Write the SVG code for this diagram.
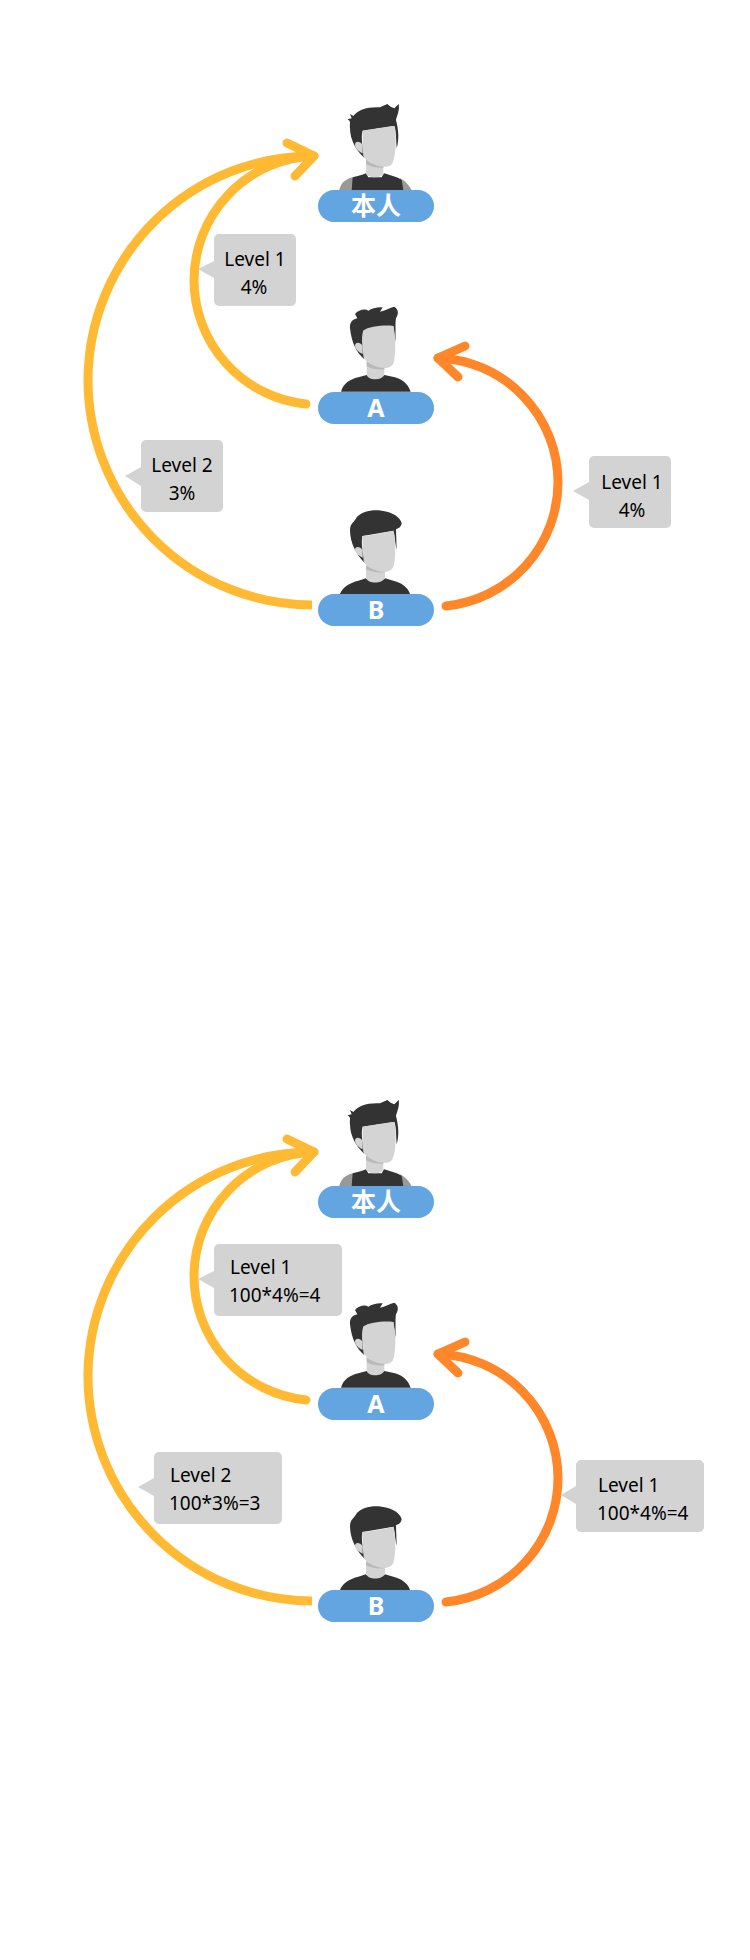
<svg xmlns="http://www.w3.org/2000/svg" width="750" height="1960" viewBox="0 0 750 1960">
<style>
text{font-family:"Noto Sans","Noto Sans CJK SC",sans-serif}
.bub{fill:#d3d3d3}
.t{font-size:19px;fill:#000}
.m{text-anchor:middle}
.pill{fill:#62a5e0}
.pt{font-size:25px;font-weight:700;fill:#fff;text-anchor:middle}
.cjk{font-family:"Noto Sans CJK SC",sans-serif}
.hair{fill:#333}
.skin{fill:#d4d4d4}
.shade{fill:#b9b9b9}
.arm{fill:#999}
.c{fill:none;stroke-width:9;stroke-linecap:round;stroke-linejoin:round}
.y{stroke:#ffb933}
.o{stroke:#ff8629}
.bt{stroke-linecap:butt}
</style>
<defs>
<g id="p0" transform="scale(.33333)">
<path class="arm" d="M118 300C122 280 135 268 158 262L175 300Z"/>
<path class="arm" d="M300 265C318 275 328 287 334 300H300Z"/>
<path class="hair" d="M155 300L158 262C175 258 190 254 198 250L205 262H245L252 250C275 257 295 262 305 270L310 300Z"/>
<path class="skin" d="M198 205V250C205 266 245 266 250 250V220Z"/>
<path class="shade" d="M198 208V222C215 232 235 234 250 233V222Z"/>
<path class="hair" d="M142 88L155 85L150 72L160 78C175 60 200 50 240 52L262 42L272 50L283 55L296 42C300 60 290 80 288 90C296 120 298 150 290 175C288 140 288 120 283 108L188 122C183 135 186 165 193 203C170 185 150 150 150 115C148 100 155 95 142 88Z"/>
<path class="skin" d="M188 122C215 118 260 110 283 108C290 140 288 195 278 218C272 232 250 232 235 228C215 222 198 212 190 198L188 150Z"/>
<path class="skin" d="M188 190C176 184 166 176 165 164C165 152 180 152 188 165Z"/>
</g>
<g id="pa" transform="scale(.33333)">
<path class="hair" d="M123 305C130 280 150 268 175 262L200 255H253L285 262C310 268 325 285 332 305Z"/>
<path class="skin" d="M200 212V255C205 272 245 272 253 255V225Z"/>
<path class="shade" d="M200 216V228C215 238 235 240 253 238V228Z"/>
<path class="hair" d="M165 72C175 60 195 55 205 62C215 55 235 50 248 52L240 65C255 62 270 52 283 50C295 58 297 70 288 85C285 100 288 130 286 155L280 108L190 122C185 135 186 165 193 208C170 188 155 160 150 115C148 95 160 88 172 85Z"/>
<path class="skin" d="M190 122C205 108 260 104 280 108C288 140 288 195 280 220C274 236 252 236 237 232C215 226 198 216 191 202L188 150Z"/>
<path class="skin" d="M188 192C176 186 166 178 165 167C165 155 180 155 188 168Z"/>
</g>
<g id="pb" transform="scale(.33333)">
<path class="hair" d="M120 312C128 290 150 278 175 272L198 265H255L290 275C310 282 325 295 330 312Z"/>
<path class="skin" d="M198 225V265C205 282 245 282 255 265V238Z"/>
<path class="shade" d="M198 228V238C215 246 235 250 255 246V238Z"/>
<path class="hair" d="M150 120C150 100 165 95 170 82C185 65 215 58 245 62C280 65 303 85 305 100C303 112 295 115 288 118L290 180C284 150 284 130 280 122L188 138C183 150 186 180 195 220C170 195 150 160 150 120Z"/>
<path class="skin" d="M186 138C215 135 250 130 280 122C288 150 288 205 280 230C274 246 252 248 237 244C215 238 198 228 191 214L188 165Z"/>
<path class="skin" d="M188 203C176 196 166 190 165 179C165 168 180 168 188 181Z"/>
</g>
</defs>
<rect width="750" height="1960" fill="#fff"/>

<g id="connectors">
<path class="c y bt" d="M312 605A225 225 0 0 1 88 378A225 225 0 0 1 314 156"/>
<path class="c y" d="M306 404A124.6 124.6 0 0 1 194 280A124.6 124.6 0 0 1 314 156"/>
<path class="c y" d="M287 143L314 156L295 176"/>
<path class="c o" d="M446 606A124.6 124.6 0 0 0 558 482A124.6 124.6 0 0 0 438 358"/>
<path class="c o" d="M465 346L438 358L458 377"/>
<path class="c y bt" d="M312 1601A225 225 0 0 1 88 1374A225 225 0 0 1 314 1152"/>
<path class="c y" d="M306 1400A124.6 124.6 0 0 1 194 1276A124.6 124.6 0 0 1 314 1152"/>
<path class="c y" d="M287 1139L314 1152L295 1172"/>
<path class="c o" d="M446 1602A124.6 124.6 0 0 0 558 1478A124.6 124.6 0 0 0 438 1354"/>
<path class="c o" d="M465 1342L438 1354L458 1373"/>
</g>

<g id="node-self-1"><use href="#p0" transform="translate(300 90)"/><rect class="pill" x="318" y="190" width="116" height="32" rx="16"/><text class="pt cjk" x="376" y="215">本人</text></g>
<g id="node-a-1"><use href="#pa" transform="translate(300 290)"/><rect class="pill" x="318" y="392" width="116" height="32" rx="16"/><text class="pt" x="376" y="417">A</text></g>
<g id="node-b-1"><use href="#pb" transform="translate(300 490)"/><rect class="pill" x="318" y="594" width="116" height="32" rx="16"/><text class="pt" x="376" y="619">B</text></g>

<g id="label-a-self-1"><path class="bub" d="M219 234H291a5 5 0 0 1 5 5V301a5 5 0 0 1-5 5H219a5 5 0 0 1-5-5V278L198 269L214 261V239a5 5 0 0 1 5-5Z"/><text class="t m" x="255" y="266">Level 1</text><text class="t m" x="254" y="294">4%</text></g>
<g id="label-b-self-1"><path class="bub" d="M146 440H218a5 5 0 0 1 5 5V507a5 5 0 0 1-5 5H146a5 5 0 0 1-5-5V486L125 476L141 467V445a5 5 0 0 1 5-5Z"/><text class="t m" x="182" y="472">Level 2</text><text class="t m" x="182" y="500">3%</text></g>
<g id="label-b-a-1"><path class="bub" d="M594 456H666a5 5 0 0 1 5 5V523a5 5 0 0 1-5 5H594a5 5 0 0 1-5-5V500L573 491L589 482V461a5 5 0 0 1 5-5Z"/><text class="t m" x="632" y="489">Level 1</text><text class="t m" x="632" y="517">4%</text></g>

<g id="node-self-2"><use href="#p0" transform="translate(300 1086)"/><rect class="pill" x="318" y="1186" width="116" height="32" rx="16"/><text class="pt cjk" x="376" y="1211">本人</text></g>
<g id="node-a-2"><use href="#pa" transform="translate(300 1286)"/><rect class="pill" x="318" y="1388" width="116" height="32" rx="16"/><text class="pt" x="376" y="1413">A</text></g>
<g id="node-b-2"><use href="#pb" transform="translate(300 1486)"/><rect class="pill" x="318" y="1590" width="116" height="32" rx="16"/><text class="pt" x="376" y="1615">B</text></g>

<g id="label-a-self-2"><path class="bub" d="M219 1244H337a5 5 0 0 1 5 5V1311a5 5 0 0 1-5 5H219a5 5 0 0 1-5-5V1288L198 1279L214 1271V1249a5 5 0 0 1 5-5Z"/><text class="t" x="230" y="1274">Level 1</text><text class="t" x="229" y="1302">100*4%=4</text></g>
<g id="label-b-self-2"><path class="bub" d="M159 1452H277a5 5 0 0 1 5 5V1519a5 5 0 0 1-5 5H159a5 5 0 0 1-5-5V1496L138 1487L154 1478V1457a5 5 0 0 1 5-5Z"/><text class="t" x="170" y="1482">Level 2</text><text class="t" x="169" y="1510">100*3%=3</text></g>
<g id="label-b-a-2"><path class="bub" d="M581 1460H699a5 5 0 0 1 5 5V1527a5 5 0 0 1-5 5H581a5 5 0 0 1-5-5V1504L561 1495L576 1486V1465a5 5 0 0 1 5-5Z"/><text class="t" x="598" y="1492">Level 1</text><text class="t" x="597" y="1520">100*4%=4</text></g>
</svg>
